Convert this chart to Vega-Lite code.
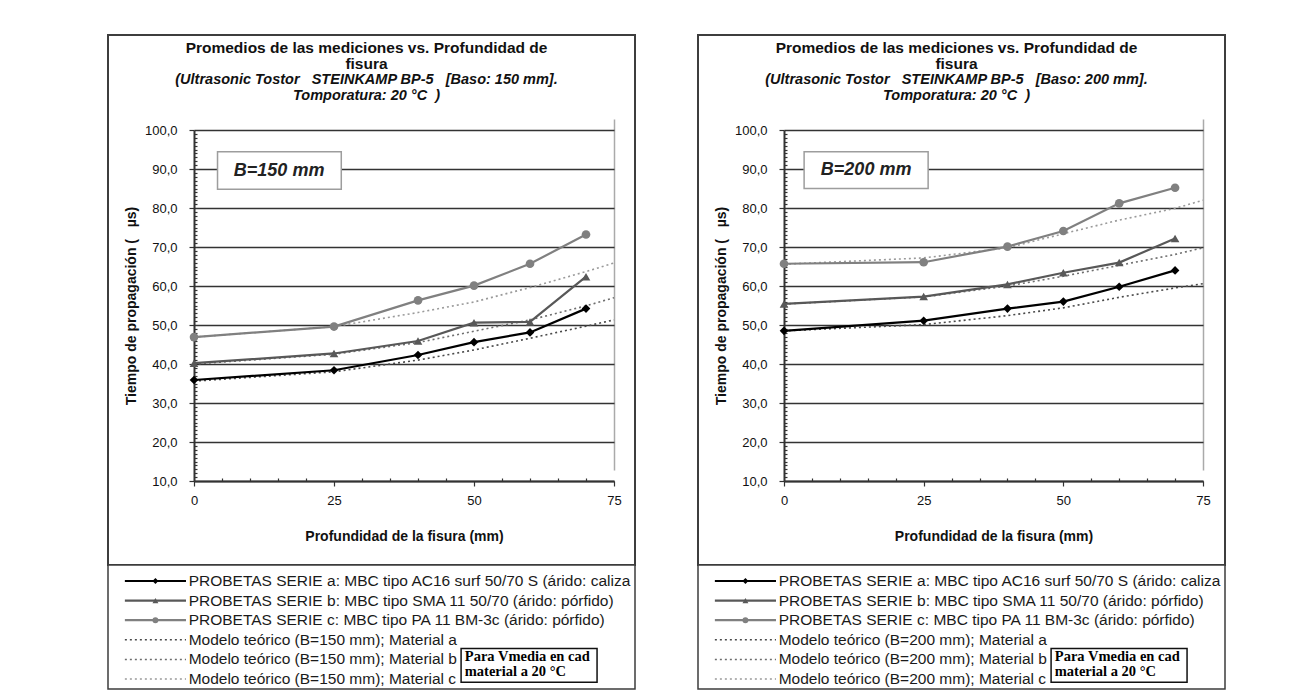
{
  "$schema": "https://vega.github.io/schema/vega-lite/v6.json",
  "background": "white",
  "padding": {"left": 107, "top": 34, "right": 10, "bottom": 5},
  "spacing": 61,
  "config": {
    "font": "Liberation Sans",
    "view": {"stroke": "#3d3d3d", "strokeWidth": 2, "fill": "white"},
    "axis": {"labelFont": "Liberation Sans", "titleFont": "Liberation Sans", "labelColor": "#111111", "titleColor": "#111111"}
  },
  "datasets": {
    "series": [
      {"panel": "150", "serie": "a", "x": 0, "y": 35.9},
      {"panel": "150", "serie": "a", "x": 25, "y": 38.4},
      {"panel": "150", "serie": "a", "x": 40, "y": 42.3},
      {"panel": "150", "serie": "a", "x": 50, "y": 45.6},
      {"panel": "150", "serie": "a", "x": 60, "y": 48.1},
      {"panel": "150", "serie": "a", "x": 70, "y": 54.2},
      {"panel": "150", "serie": "b", "x": 0, "y": 40.2},
      {"panel": "150", "serie": "b", "x": 25, "y": 42.7},
      {"panel": "150", "serie": "b", "x": 40, "y": 45.9},
      {"panel": "150", "serie": "b", "x": 50, "y": 50.6},
      {"panel": "150", "serie": "b", "x": 60, "y": 50.8},
      {"panel": "150", "serie": "b", "x": 70, "y": 62.4},
      {"panel": "150", "serie": "c", "x": 0, "y": 46.9},
      {"panel": "150", "serie": "c", "x": 25, "y": 49.6},
      {"panel": "150", "serie": "c", "x": 40, "y": 56.3},
      {"panel": "150", "serie": "c", "x": 50, "y": 60.1},
      {"panel": "150", "serie": "c", "x": 60, "y": 65.7},
      {"panel": "150", "serie": "c", "x": 70, "y": 73.2},
      {"panel": "150", "serie": "ma", "x": 0, "y": 35.6},
      {"panel": "150", "serie": "ma", "x": 25, "y": 38.0},
      {"panel": "150", "serie": "ma", "x": 40, "y": 41.0},
      {"panel": "150", "serie": "ma", "x": 50, "y": 43.6},
      {"panel": "150", "serie": "ma", "x": 60, "y": 46.6},
      {"panel": "150", "serie": "ma", "x": 70, "y": 49.7},
      {"panel": "150", "serie": "ma", "x": 75, "y": 51.3},
      {"panel": "150", "serie": "mb", "x": 0, "y": 40.0},
      {"panel": "150", "serie": "mb", "x": 25, "y": 42.5},
      {"panel": "150", "serie": "mb", "x": 40, "y": 45.5},
      {"panel": "150", "serie": "mb", "x": 50, "y": 48.4},
      {"panel": "150", "serie": "mb", "x": 60, "y": 51.3},
      {"panel": "150", "serie": "mb", "x": 70, "y": 54.9},
      {"panel": "150", "serie": "mb", "x": 75, "y": 57.0},
      {"panel": "150", "serie": "mc", "x": 0, "y": 46.9},
      {"panel": "150", "serie": "mc", "x": 25, "y": 49.6},
      {"panel": "150", "serie": "mc", "x": 40, "y": 53.2},
      {"panel": "150", "serie": "mc", "x": 50, "y": 55.9},
      {"panel": "150", "serie": "mc", "x": 60, "y": 59.6},
      {"panel": "150", "serie": "mc", "x": 70, "y": 63.7},
      {"panel": "150", "serie": "mc", "x": 75, "y": 65.9},
      {"panel": "200", "serie": "a", "x": 0, "y": 48.5},
      {"panel": "200", "serie": "a", "x": 25, "y": 51.1},
      {"panel": "200", "serie": "a", "x": 40, "y": 54.2},
      {"panel": "200", "serie": "a", "x": 50, "y": 56.0},
      {"panel": "200", "serie": "a", "x": 60, "y": 59.8},
      {"panel": "200", "serie": "a", "x": 70, "y": 64.0},
      {"panel": "200", "serie": "b", "x": 0, "y": 55.4},
      {"panel": "200", "serie": "b", "x": 25, "y": 57.3},
      {"panel": "200", "serie": "b", "x": 40, "y": 60.4},
      {"panel": "200", "serie": "b", "x": 50, "y": 63.4},
      {"panel": "200", "serie": "b", "x": 60, "y": 66.0},
      {"panel": "200", "serie": "b", "x": 70, "y": 72.2},
      {"panel": "200", "serie": "c", "x": 0, "y": 65.7},
      {"panel": "200", "serie": "c", "x": 25, "y": 66.1},
      {"panel": "200", "serie": "c", "x": 40, "y": 70.1},
      {"panel": "200", "serie": "c", "x": 50, "y": 74.1},
      {"panel": "200", "serie": "c", "x": 60, "y": 81.2},
      {"panel": "200", "serie": "c", "x": 70, "y": 85.2},
      {"panel": "200", "serie": "ma", "x": 0, "y": 48.5},
      {"panel": "200", "serie": "ma", "x": 25, "y": 50.1},
      {"panel": "200", "serie": "ma", "x": 40, "y": 52.4},
      {"panel": "200", "serie": "ma", "x": 50, "y": 54.4},
      {"panel": "200", "serie": "ma", "x": 60, "y": 57.1},
      {"panel": "200", "serie": "ma", "x": 70, "y": 59.5},
      {"panel": "200", "serie": "ma", "x": 75, "y": 60.6},
      {"panel": "200", "serie": "mb", "x": 0, "y": 55.4},
      {"panel": "200", "serie": "mb", "x": 25, "y": 57.2},
      {"panel": "200", "serie": "mb", "x": 40, "y": 60.0},
      {"panel": "200", "serie": "mb", "x": 50, "y": 62.5},
      {"panel": "200", "serie": "mb", "x": 60, "y": 65.3},
      {"panel": "200", "serie": "mb", "x": 70, "y": 68.1},
      {"panel": "200", "serie": "mb", "x": 75, "y": 69.8},
      {"panel": "200", "serie": "mc", "x": 0, "y": 65.6},
      {"panel": "200", "serie": "mc", "x": 25, "y": 67.2},
      {"panel": "200", "serie": "mc", "x": 40, "y": 69.8},
      {"panel": "200", "serie": "mc", "x": 50, "y": 73.4},
      {"panel": "200", "serie": "mc", "x": 60, "y": 76.9},
      {"panel": "200", "serie": "mc", "x": 70, "y": 79.9},
      {"panel": "200", "serie": "mc", "x": 75, "y": 82.0}
    ],
    "legend": [
      {"panel": "150", "row": 1, "serie": "a", "label": "PROBETAS SERIE a: MBC tipo AC16 surf 50/70 S (árido: caliza"},
      {"panel": "150", "row": 2, "serie": "b", "label": "PROBETAS SERIE b: MBC tipo SMA 11 50/70 (árido: pórfido)"},
      {"panel": "150", "row": 3, "serie": "c", "label": "PROBETAS SERIE c: MBC tipo PA 11 BM-3c (árido: pórfido)"},
      {"panel": "150", "row": 4, "serie": "ma", "label": "Modelo teórico (B=150 mm); Material a"},
      {"panel": "150", "row": 5, "serie": "mb", "label": "Modelo teórico (B=150 mm); Material b"},
      {"panel": "150", "row": 6, "serie": "mc", "label": "Modelo teórico (B=150 mm); Material c"},
      {"panel": "200", "row": 1, "serie": "a", "label": "PROBETAS SERIE a: MBC tipo AC16 surf 50/70 S (árido: caliza"},
      {"panel": "200", "row": 2, "serie": "b", "label": "PROBETAS SERIE b: MBC tipo SMA 11 50/70 (árido: pórfido)"},
      {"panel": "200", "row": 3, "serie": "c", "label": "PROBETAS SERIE c: MBC tipo PA 11 BM-3c (árido: pórfido)"},
      {"panel": "200", "row": 4, "serie": "ma", "label": "Modelo teórico (B=200 mm); Material a"},
      {"panel": "200", "row": 5, "serie": "mb", "label": "Modelo teórico (B=200 mm); Material b"},
      {"panel": "200", "row": 6, "serie": "mc", "label": "Modelo teórico (B=200 mm); Material c"}
    ]
  },
  "hconcat": [
    {
      "spacing": 0,
      "bounds": "flush",
      "vconcat": [
        {
          "width": 527,
          "height": 530,
          "title": {
            "text": ["Promedios de las mediciones vs. Profundidad de", "fisura"],
            "subtitle": ["(Ultrasonic Tostor\u00a0\u00a0 STEINKAMP BP-5\u00a0\u00a0 [Baso: 150 mm].", "Tomporatura: 20 °C\u00a0 )"],
            "anchor": "middle", "frame": "group", "offset": -67, "dx": -5,
            "font": "Liberation Sans", "fontSize": 15.5, "fontWeight": "bold", "lineHeight": 16, "color": "#111111",
            "subtitleFont": "Liberation Sans", "subtitleFontSize": 14.5, "subtitleFontStyle": "italic", "subtitleFontWeight": "bold", "subtitleColor": "#111111", "subtitleLineHeight": 16, "subtitlePadding": 0
          },
          "layer": [
            {
              "data": {"name": "series"},
              "encoding": {
                "x": {"field": "x", "type": "quantitative",
                  "scale": {"domain": [0, 75], "range": [86, 506], "nice": false, "zero": false},
                  "axis": {"values": [0,5,10,15,20,25,30,35,40,45,50,55,60,65,70,75], "offset": -84,
                    "title": "Profundidad de la fisura (mm)", "titleFontSize": 14, "titleFontWeight": "bold", "titlePadding": 22,
                    "labelExpr": "datum.value % 25 === 0 ? datum.label : ''", "labelFontSize": 13, "labelPadding": 8, "labelFlush": false, "labelOverlap": false,
                    "tickSize": {"condition": {"test": "datum.value % 25 === 0", "value": 5}, "value": -3},
                    "tickColor": "#333333", "tickWidth": 1.2, "domainColor": "#333333", "domainWidth": 2,
                    "grid": true, "gridColor": "#aaaaaa", "gridWidth": 1.5,
                    "gridOpacity": {"condition": {"test": "datum.value === 75", "value": 1}, "value": 0}}},
                "y": {"field": "y", "type": "quantitative",
                  "scale": {"domain": [10, 100], "range": [446, 95], "nice": false, "zero": false},
                  "axis": {"values": [10,11,12,13,14,15,16,17,18,19,20,21,22,23,24,25,26,27,28,29,30,31,32,33,34,35,36,37,38,39,40,41,42,43,44,45,46,47,48,49,50,51,52,53,54,55,56,57,58,59,60,61,62,63,64,65,66,67,68,69,70,71,72,73,74,75,76,77,78,79,80,81,82,83,84,85,86,87,88,89,90,91,92,93,94,95,96,97,98,99,100],
                    "offset": -86,
                    "title": "Tiempo de propagación (\u00a0\u00a0 µs)", "titleFontSize": 14, "titleFontWeight": "bold", "titlePadding": 6,
                    "labelExpr": "datum.value % 10 === 0 ? replace(format(datum.value, '.1f'), '.', ',') : ''", "labelFontSize": 13, "labelPadding": 12, "labelOverlap": false,
                    "tickSize": {"condition": {"test": "datum.value % 10 === 0", "value": 5}, "value": -3},
                    "tickColor": "#333333", "tickWidth": 1.2, "domainColor": "#333333", "domainWidth": 2,
                    "grid": true, "gridColor": "#333333", "gridWidth": 1.7,
                    "gridOpacity": {"condition": {"test": "datum.value % 10 === 0", "value": 1}, "value": 0}}},
                "color": {"field": "serie", "type": "nominal", "scale": {"domain": ["a","b","c","ma","mb","mc"], "range": ["#000000","#585858","#808080","#4a4a4a","#6e6e6e","#9a9a9a"]}, "legend": null}
              },
              "layer": [
                {"transform": [{"filter": "datum.panel === '150' && indexof(['ma','mb','mc'], datum.serie) >= 0"}],
                 "mark": {"type": "line", "strokeWidth": 1.6, "strokeDash": [2, 3]}},
                {"transform": [{"filter": "datum.panel === '150' && indexof(['a','b','c'], datum.serie) >= 0"}],
                 "mark": {"type": "line", "strokeWidth": 2.2}},
                {"transform": [{"filter": "datum.panel === '150' && indexof(['a','b','c'], datum.serie) >= 0"}],
                 "mark": {"type": "point", "filled": true, "opacity": 1, "size": 75},
                 "encoding": {"shape": {"field": "serie", "type": "nominal", "scale": {"domain": ["a","b","c"], "range": ["diamond","triangle-up","circle"]}, "legend": null}}}
              ]
            },
            {"data": {"values": [{}]},
             "mark": {"type": "rect", "fill": "white", "stroke": "#9d9d9d", "strokeWidth": 1.5},
             "encoding": {
               "x": {"datum": 4.2, "type": "quantitative",
                  "scale": {"domain": [0, 75], "range": [86, 506], "nice": false, "zero": false},
                  "axis": {"values": [0,5,10,15,20,25,30,35,40,45,50,55,60,65,70,75], "offset": -84,
                    "title": "Profundidad de la fisura (mm)", "titleFontSize": 14, "titleFontWeight": "bold", "titlePadding": 22,
                    "labelExpr": "datum.value % 25 === 0 ? datum.label : ''", "labelFontSize": 13, "labelPadding": 8, "labelFlush": false, "labelOverlap": false,
                    "tickSize": {"condition": {"test": "datum.value % 25 === 0", "value": 5}, "value": -3},
                    "tickColor": "#333333", "tickWidth": 1.2, "domainColor": "#333333", "domainWidth": 2,
                    "grid": true, "gridColor": "#aaaaaa", "gridWidth": 1.5,
                    "gridOpacity": {"condition": {"test": "datum.value === 75", "value": 1}, "value": 0}}},
               "x2": {"datum": 26.3},
               "y": {"datum": 94.4, "type": "quantitative",
                  "scale": {"domain": [10, 100], "range": [446, 95], "nice": false, "zero": false},
                  "axis": {"values": [10,11,12,13,14,15,16,17,18,19,20,21,22,23,24,25,26,27,28,29,30,31,32,33,34,35,36,37,38,39,40,41,42,43,44,45,46,47,48,49,50,51,52,53,54,55,56,57,58,59,60,61,62,63,64,65,66,67,68,69,70,71,72,73,74,75,76,77,78,79,80,81,82,83,84,85,86,87,88,89,90,91,92,93,94,95,96,97,98,99,100],
                    "offset": -86,
                    "title": "Tiempo de propagación (\u00a0\u00a0 µs)", "titleFontSize": 14, "titleFontWeight": "bold", "titlePadding": 6,
                    "labelExpr": "datum.value % 10 === 0 ? replace(format(datum.value, '.1f'), '.', ',') : ''", "labelFontSize": 13, "labelPadding": 12, "labelOverlap": false,
                    "tickSize": {"condition": {"test": "datum.value % 10 === 0", "value": 5}, "value": -3},
                    "tickColor": "#333333", "tickWidth": 1.2, "domainColor": "#333333", "domainWidth": 2,
                    "grid": true, "gridColor": "#333333", "gridWidth": 1.7,
                    "gridOpacity": {"condition": {"test": "datum.value % 10 === 0", "value": 1}, "value": 0}}},
               "y2": {"datum": 84.8}}},
            {"data": {"values": [{}]},
             "mark": {"type": "text", "text": "B=150 mm", "fontSize": 18, "fontWeight": "bold", "fontStyle": "italic", "color": "#222222", "align": "center", "baseline": "middle"},
             "encoding": {
               "x": {"datum": 15.2, "type": "quantitative",
                  "scale": {"domain": [0, 75], "range": [86, 506], "nice": false, "zero": false},
                  "axis": {"values": [0,5,10,15,20,25,30,35,40,45,50,55,60,65,70,75], "offset": -84,
                    "title": "Profundidad de la fisura (mm)", "titleFontSize": 14, "titleFontWeight": "bold", "titlePadding": 22,
                    "labelExpr": "datum.value % 25 === 0 ? datum.label : ''", "labelFontSize": 13, "labelPadding": 8, "labelFlush": false, "labelOverlap": false,
                    "tickSize": {"condition": {"test": "datum.value % 25 === 0", "value": 5}, "value": -3},
                    "tickColor": "#333333", "tickWidth": 1.2, "domainColor": "#333333", "domainWidth": 2,
                    "grid": true, "gridColor": "#aaaaaa", "gridWidth": 1.5,
                    "gridOpacity": {"condition": {"test": "datum.value === 75", "value": 1}, "value": 0}}},
               "y": {"datum": 89.6, "type": "quantitative",
                  "scale": {"domain": [10, 100], "range": [446, 95], "nice": false, "zero": false},
                  "axis": {"values": [10,11,12,13,14,15,16,17,18,19,20,21,22,23,24,25,26,27,28,29,30,31,32,33,34,35,36,37,38,39,40,41,42,43,44,45,46,47,48,49,50,51,52,53,54,55,56,57,58,59,60,61,62,63,64,65,66,67,68,69,70,71,72,73,74,75,76,77,78,79,80,81,82,83,84,85,86,87,88,89,90,91,92,93,94,95,96,97,98,99,100],
                    "offset": -86,
                    "title": "Tiempo de propagación (\u00a0\u00a0 µs)", "titleFontSize": 14, "titleFontWeight": "bold", "titlePadding": 6,
                    "labelExpr": "datum.value % 10 === 0 ? replace(format(datum.value, '.1f'), '.', ',') : ''", "labelFontSize": 13, "labelPadding": 12, "labelOverlap": false,
                    "tickSize": {"condition": {"test": "datum.value % 10 === 0", "value": 5}, "value": -3},
                    "tickColor": "#333333", "tickWidth": 1.2, "domainColor": "#333333", "domainWidth": 2,
                    "grid": true, "gridColor": "#333333", "gridWidth": 1.7,
                    "gridOpacity": {"condition": {"test": "datum.value % 10 === 0", "value": 1}, "value": 0}}}}}
          ]
        },
        {
          "width": 527,
          "height": 124,
          "view": {"stroke": "#3d3d3d", "strokeWidth": 1.5, "fill": "white"},
          "layer": [
            {"data": {"name": "legend"},
             "transform": [{"filter": "datum.panel === '150' && datum.row <= 3"}],
             "mark": {"type": "rule", "strokeWidth": 2.2},
             "encoding": {"x": {"datum": 3.2, "type": "quantitative", "scale": {"domain": [0, 100]}, "axis": null}, "x2": {"datum": 14.8},
               "y": {"field": "row", "type": "quantitative", "scale": {"domain": [1, 6], "range": [16, 114]}, "axis": null},
               "color": {"field": "serie", "type": "nominal", "scale": {"domain": ["a","b","c","ma","mb","mc"], "range": ["#000000","#585858","#808080","#4a4a4a","#6e6e6e","#9a9a9a"]}, "legend": null}}},
            {"data": {"name": "legend"},
             "transform": [{"filter": "datum.panel === '150' && datum.row > 3"}],
             "mark": {"type": "rule", "strokeWidth": 1.5, "strokeDash": [2, 3]},
             "encoding": {"x": {"datum": 3.2, "type": "quantitative"}, "x2": {"datum": 14.8},
               "y": {"field": "row", "type": "quantitative"},
               "color": {"field": "serie", "type": "nominal", "legend": null}}},
            {"data": {"name": "legend"},
             "transform": [{"filter": "datum.panel === '150' && datum.row <= 3"}],
             "mark": {"type": "point", "filled": true, "opacity": 1, "size": 35},
             "encoding": {"x": {"datum": 9, "type": "quantitative"},
               "y": {"field": "row", "type": "quantitative"},
               "color": {"field": "serie", "type": "nominal", "legend": null},
               "shape": {"field": "serie", "type": "nominal", "scale": {"domain": ["a","b","c"], "range": ["diamond","triangle-up","circle"]}, "legend": null}}},
            {"data": {"name": "legend"},
             "transform": [{"filter": "datum.panel === '150'"}],
             "mark": {"type": "text", "align": "left", "baseline": "middle", "font": "Liberation Sans", "fontSize": 15.5, "color": "#1a1a1a", "limit": 446, "ellipsis": ""},
             "encoding": {"x": {"datum": 15.3, "type": "quantitative"},
               "y": {"field": "row", "type": "quantitative"},
               "text": {"field": "label"}}},
            {"data": {"values": [{}]},
             "mark": {"type": "rect", "fill": "white", "stroke": "#111111", "strokeWidth": 1.5},
             "encoding": {"x": {"datum": 67.0}, "x2": {"datum": 92.8}, "y": {"datum": 4.44}, "y2": {"datum": 6.16}}},
            {"data": {"values": [{}]},
             "mark": {"type": "text", "text": ["Para Vmedia en cad", "material a 20 °C"], "align": "left", "baseline": "middle", "font": "Liberation Serif", "fontSize": 14.5, "fontWeight": "bold", "lineHeight": 15, "color": "#000000"},
             "encoding": {"x": {"datum": 67.7}, "y": {"datum": 4.87}}}
          ]
        }
      ]
    },
    {
      "spacing": 0,
      "bounds": "flush",
      "vconcat": [
        {
          "width": 527,
          "height": 530,
          "title": {
            "text": ["Promedios de las mediciones vs. Profundidad de", "fisura"],
            "subtitle": ["(Ultrasonic Tostor\u00a0\u00a0 STEINKAMP BP-5\u00a0\u00a0 [Baso: 200 mm].", "Tomporatura: 20 °C\u00a0 )"],
            "anchor": "middle", "frame": "group", "offset": -67, "dx": -5,
            "font": "Liberation Sans", "fontSize": 15.5, "fontWeight": "bold", "lineHeight": 16, "color": "#111111",
            "subtitleFont": "Liberation Sans", "subtitleFontSize": 14.5, "subtitleFontStyle": "italic", "subtitleFontWeight": "bold", "subtitleColor": "#111111", "subtitleLineHeight": 16, "subtitlePadding": 0
          },
          "layer": [
            {
              "data": {"name": "series"},
              "encoding": {
                "x": {"field": "x", "type": "quantitative",
                  "scale": {"domain": [0, 75], "range": [86, 505], "nice": false, "zero": false},
                  "axis": {"values": [0,5,10,15,20,25,30,35,40,45,50,55,60,65,70,75], "offset": -84,
                    "title": "Profundidad de la fisura (mm)", "titleFontSize": 14, "titleFontWeight": "bold", "titlePadding": 22,
                    "labelExpr": "datum.value % 25 === 0 ? datum.label : ''", "labelFontSize": 13, "labelPadding": 8, "labelFlush": false, "labelOverlap": false,
                    "tickSize": {"condition": {"test": "datum.value % 25 === 0", "value": 5}, "value": -3},
                    "tickColor": "#333333", "tickWidth": 1.2, "domainColor": "#333333", "domainWidth": 2,
                    "grid": true, "gridColor": "#aaaaaa", "gridWidth": 1.5,
                    "gridOpacity": {"condition": {"test": "datum.value === 75", "value": 1}, "value": 0}}},
                "y": {"field": "y", "type": "quantitative",
                  "scale": {"domain": [10, 100], "range": [446, 95], "nice": false, "zero": false},
                  "axis": {"values": [10,11,12,13,14,15,16,17,18,19,20,21,22,23,24,25,26,27,28,29,30,31,32,33,34,35,36,37,38,39,40,41,42,43,44,45,46,47,48,49,50,51,52,53,54,55,56,57,58,59,60,61,62,63,64,65,66,67,68,69,70,71,72,73,74,75,76,77,78,79,80,81,82,83,84,85,86,87,88,89,90,91,92,93,94,95,96,97,98,99,100],
                    "offset": -86,
                    "title": "Tiempo de propagación (\u00a0\u00a0 µs)", "titleFontSize": 14, "titleFontWeight": "bold", "titlePadding": 6,
                    "labelExpr": "datum.value % 10 === 0 ? replace(format(datum.value, '.1f'), '.', ',') : ''", "labelFontSize": 13, "labelPadding": 12, "labelOverlap": false,
                    "tickSize": {"condition": {"test": "datum.value % 10 === 0", "value": 5}, "value": -3},
                    "tickColor": "#333333", "tickWidth": 1.2, "domainColor": "#333333", "domainWidth": 2,
                    "grid": true, "gridColor": "#333333", "gridWidth": 1.7,
                    "gridOpacity": {"condition": {"test": "datum.value % 10 === 0", "value": 1}, "value": 0}}},
                "color": {"field": "serie", "type": "nominal", "scale": {"domain": ["a","b","c","ma","mb","mc"], "range": ["#000000","#585858","#808080","#4a4a4a","#6e6e6e","#9a9a9a"]}, "legend": null}
              },
              "layer": [
                {"transform": [{"filter": "datum.panel === '200' && indexof(['ma','mb','mc'], datum.serie) >= 0"}],
                 "mark": {"type": "line", "strokeWidth": 1.6, "strokeDash": [2, 3]}},
                {"transform": [{"filter": "datum.panel === '200' && indexof(['a','b','c'], datum.serie) >= 0"}],
                 "mark": {"type": "line", "strokeWidth": 2.2}},
                {"transform": [{"filter": "datum.panel === '200' && indexof(['a','b','c'], datum.serie) >= 0"}],
                 "mark": {"type": "point", "filled": true, "opacity": 1, "size": 75},
                 "encoding": {"shape": {"field": "serie", "type": "nominal", "scale": {"domain": ["a","b","c"], "range": ["diamond","triangle-up","circle"]}, "legend": null}}}
              ]
            },
            {"data": {"values": [{}]},
             "mark": {"type": "rect", "fill": "white", "stroke": "#9d9d9d", "strokeWidth": 1.5},
             "encoding": {
               "x": {"datum": 3.6, "type": "quantitative",
                  "scale": {"domain": [0, 75], "range": [86, 505], "nice": false, "zero": false},
                  "axis": {"values": [0,5,10,15,20,25,30,35,40,45,50,55,60,65,70,75], "offset": -84,
                    "title": "Profundidad de la fisura (mm)", "titleFontSize": 14, "titleFontWeight": "bold", "titlePadding": 22,
                    "labelExpr": "datum.value % 25 === 0 ? datum.label : ''", "labelFontSize": 13, "labelPadding": 8, "labelFlush": false, "labelOverlap": false,
                    "tickSize": {"condition": {"test": "datum.value % 25 === 0", "value": 5}, "value": -3},
                    "tickColor": "#333333", "tickWidth": 1.2, "domainColor": "#333333", "domainWidth": 2,
                    "grid": true, "gridColor": "#aaaaaa", "gridWidth": 1.5,
                    "gridOpacity": {"condition": {"test": "datum.value === 75", "value": 1}, "value": 0}}},
               "x2": {"datum": 25.8},
               "y": {"datum": 94.4, "type": "quantitative",
                  "scale": {"domain": [10, 100], "range": [446, 95], "nice": false, "zero": false},
                  "axis": {"values": [10,11,12,13,14,15,16,17,18,19,20,21,22,23,24,25,26,27,28,29,30,31,32,33,34,35,36,37,38,39,40,41,42,43,44,45,46,47,48,49,50,51,52,53,54,55,56,57,58,59,60,61,62,63,64,65,66,67,68,69,70,71,72,73,74,75,76,77,78,79,80,81,82,83,84,85,86,87,88,89,90,91,92,93,94,95,96,97,98,99,100],
                    "offset": -86,
                    "title": "Tiempo de propagación (\u00a0\u00a0 µs)", "titleFontSize": 14, "titleFontWeight": "bold", "titlePadding": 6,
                    "labelExpr": "datum.value % 10 === 0 ? replace(format(datum.value, '.1f'), '.', ',') : ''", "labelFontSize": 13, "labelPadding": 12, "labelOverlap": false,
                    "tickSize": {"condition": {"test": "datum.value % 10 === 0", "value": 5}, "value": -3},
                    "tickColor": "#333333", "tickWidth": 1.2, "domainColor": "#333333", "domainWidth": 2,
                    "grid": true, "gridColor": "#333333", "gridWidth": 1.7,
                    "gridOpacity": {"condition": {"test": "datum.value % 10 === 0", "value": 1}, "value": 0}}},
               "y2": {"datum": 85.0}}},
            {"data": {"values": [{}]},
             "mark": {"type": "text", "text": "B=200 mm", "fontSize": 18, "fontWeight": "bold", "fontStyle": "italic", "color": "#222222", "align": "center", "baseline": "middle"},
             "encoding": {
               "x": {"datum": 14.7, "type": "quantitative",
                  "scale": {"domain": [0, 75], "range": [86, 505], "nice": false, "zero": false},
                  "axis": {"values": [0,5,10,15,20,25,30,35,40,45,50,55,60,65,70,75], "offset": -84,
                    "title": "Profundidad de la fisura (mm)", "titleFontSize": 14, "titleFontWeight": "bold", "titlePadding": 22,
                    "labelExpr": "datum.value % 25 === 0 ? datum.label : ''", "labelFontSize": 13, "labelPadding": 8, "labelFlush": false, "labelOverlap": false,
                    "tickSize": {"condition": {"test": "datum.value % 25 === 0", "value": 5}, "value": -3},
                    "tickColor": "#333333", "tickWidth": 1.2, "domainColor": "#333333", "domainWidth": 2,
                    "grid": true, "gridColor": "#aaaaaa", "gridWidth": 1.5,
                    "gridOpacity": {"condition": {"test": "datum.value === 75", "value": 1}, "value": 0}}},
               "y": {"datum": 89.7, "type": "quantitative",
                  "scale": {"domain": [10, 100], "range": [446, 95], "nice": false, "zero": false},
                  "axis": {"values": [10,11,12,13,14,15,16,17,18,19,20,21,22,23,24,25,26,27,28,29,30,31,32,33,34,35,36,37,38,39,40,41,42,43,44,45,46,47,48,49,50,51,52,53,54,55,56,57,58,59,60,61,62,63,64,65,66,67,68,69,70,71,72,73,74,75,76,77,78,79,80,81,82,83,84,85,86,87,88,89,90,91,92,93,94,95,96,97,98,99,100],
                    "offset": -86,
                    "title": "Tiempo de propagación (\u00a0\u00a0 µs)", "titleFontSize": 14, "titleFontWeight": "bold", "titlePadding": 6,
                    "labelExpr": "datum.value % 10 === 0 ? replace(format(datum.value, '.1f'), '.', ',') : ''", "labelFontSize": 13, "labelPadding": 12, "labelOverlap": false,
                    "tickSize": {"condition": {"test": "datum.value % 10 === 0", "value": 5}, "value": -3},
                    "tickColor": "#333333", "tickWidth": 1.2, "domainColor": "#333333", "domainWidth": 2,
                    "grid": true, "gridColor": "#333333", "gridWidth": 1.7,
                    "gridOpacity": {"condition": {"test": "datum.value % 10 === 0", "value": 1}, "value": 0}}}}}
          ]
        },
        {
          "width": 527,
          "height": 124,
          "view": {"stroke": "#3d3d3d", "strokeWidth": 1.5, "fill": "white"},
          "layer": [
            {"data": {"name": "legend"},
             "transform": [{"filter": "datum.panel === '200' && datum.row <= 3"}],
             "mark": {"type": "rule", "strokeWidth": 2.2},
             "encoding": {"x": {"datum": 3.2, "type": "quantitative", "scale": {"domain": [0, 100]}, "axis": null}, "x2": {"datum": 14.8},
               "y": {"field": "row", "type": "quantitative", "scale": {"domain": [1, 6], "range": [16, 114]}, "axis": null},
               "color": {"field": "serie", "type": "nominal", "scale": {"domain": ["a","b","c","ma","mb","mc"], "range": ["#000000","#585858","#808080","#4a4a4a","#6e6e6e","#9a9a9a"]}, "legend": null}}},
            {"data": {"name": "legend"},
             "transform": [{"filter": "datum.panel === '200' && datum.row > 3"}],
             "mark": {"type": "rule", "strokeWidth": 1.5, "strokeDash": [2, 3]},
             "encoding": {"x": {"datum": 3.2, "type": "quantitative"}, "x2": {"datum": 14.8},
               "y": {"field": "row", "type": "quantitative"},
               "color": {"field": "serie", "type": "nominal", "legend": null}}},
            {"data": {"name": "legend"},
             "transform": [{"filter": "datum.panel === '200' && datum.row <= 3"}],
             "mark": {"type": "point", "filled": true, "opacity": 1, "size": 35},
             "encoding": {"x": {"datum": 9, "type": "quantitative"},
               "y": {"field": "row", "type": "quantitative"},
               "color": {"field": "serie", "type": "nominal", "legend": null},
               "shape": {"field": "serie", "type": "nominal", "scale": {"domain": ["a","b","c"], "range": ["diamond","triangle-up","circle"]}, "legend": null}}},
            {"data": {"name": "legend"},
             "transform": [{"filter": "datum.panel === '200'"}],
             "mark": {"type": "text", "align": "left", "baseline": "middle", "font": "Liberation Sans", "fontSize": 15.5, "color": "#1a1a1a", "limit": 446, "ellipsis": ""},
             "encoding": {"x": {"datum": 15.3, "type": "quantitative"},
               "y": {"field": "row", "type": "quantitative"},
               "text": {"field": "label"}}},
            {"data": {"values": [{}]},
             "mark": {"type": "rect", "fill": "white", "stroke": "#111111", "strokeWidth": 1.5},
             "encoding": {"x": {"datum": 67.0}, "x2": {"datum": 92.8}, "y": {"datum": 4.44}, "y2": {"datum": 6.16}}},
            {"data": {"values": [{}]},
             "mark": {"type": "text", "text": ["Para Vmedia en cad", "material a 20 °C"], "align": "left", "baseline": "middle", "font": "Liberation Serif", "fontSize": 14.5, "fontWeight": "bold", "lineHeight": 15, "color": "#000000"},
             "encoding": {"x": {"datum": 67.7}, "y": {"datum": 4.87}}}
          ]
        }
      ]
    }
  ]
}
